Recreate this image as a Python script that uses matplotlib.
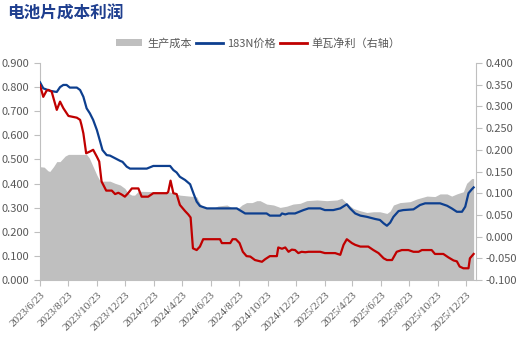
import matplotlib
matplotlib.use("Agg")
import matplotlib.pyplot as plt
import matplotlib.dates as mdates
import pandas as pd
from matplotlib.lines import Line2D
from matplotlib.patches import Patch
from matplotlib.ticker import MultipleLocator, FormatStrFormatter

plt.rcParams['font.family'] = ['Noto Sans CJK SC', 'DejaVu Sans']
plt.rcParams['axes.unicode_minus'] = False

# 生产成本 (left axis)
cost_dates = ["2023-06-23", "2023-07-02", "2023-07-10", "2023-07-14", "2023-07-22", "2023-07-29",
              "2023-08-05", "2023-08-16", "2023-08-23", "2023-10-01", "2023-10-07", "2023-10-15",
              "2023-10-23", "2023-10-30", "2023-11-20", "2023-12-01", "2023-12-12", "2023-12-22",
              "2023-12-29", "2024-01-06", "2024-01-12", "2024-01-20", "2024-03-28", "2024-04-18",
              "2024-05-24", "2024-05-31", "2024-06-07", "2024-06-28", "2024-07-09", "2024-07-28",
              "2024-08-10", "2024-08-21", "2024-08-29", "2024-09-08", "2024-09-20", "2024-09-30",
              "2024-10-07", "2024-10-21", "2024-11-05", "2024-11-19", "2024-12-03", "2024-12-17",
              "2025-01-01", "2025-01-15", "2025-02-06", "2025-02-27", "2025-03-21", "2025-03-31",
              "2025-04-11", "2025-04-25", "2025-05-10", "2025-05-24", "2025-06-07", "2025-06-21",
              "2025-07-06", "2025-07-13", "2025-07-20", "2025-08-03", "2025-08-25", "2025-09-08",
              "2025-09-30", "2025-10-17", "2025-10-28", "2025-11-12", "2025-11-22", "2025-12-03",
              "2025-12-17", "2025-12-24", "2026-01-04", "2026-01-08"]
cost_vals = [0.470, 0.468, 0.453, 0.450, 0.470, 0.491,
             0.491, 0.514, 0.521, 0.521, 0.505, 0.470,
             0.435, 0.410, 0.410, 0.401, 0.394, 0.380,
             0.360, 0.352, 0.352, 0.368, 0.365, 0.352,
             0.345, 0.318, 0.301, 0.297, 0.307, 0.311,
             0.297, 0.297, 0.311, 0.321, 0.321, 0.329,
             0.329, 0.315, 0.311, 0.301, 0.306, 0.315,
             0.318, 0.329, 0.332, 0.329, 0.332, 0.339,
             0.318, 0.297, 0.287, 0.280, 0.283, 0.283,
             0.276, 0.286, 0.311, 0.321, 0.325, 0.336,
             0.348, 0.346, 0.357, 0.357, 0.348, 0.357,
             0.366, 0.401, 0.421, 0.421]

# 183N价格 (left axis)
price_dates = ["2023-06-23", "2023-06-30", "2023-07-14", "2023-07-25", "2023-07-29", "2023-08-05",
               "2023-08-12", "2023-08-19", "2023-08-26", "2023-09-10", "2023-09-17", "2023-09-24",
               "2023-10-01", "2023-10-08", "2023-10-15", "2023-10-23", "2023-10-30", "2023-11-04",
               "2023-11-13", "2023-11-20", "2023-12-01", "2023-12-12", "2023-12-17", "2023-12-26",
               "2024-01-02", "2024-02-07", "2024-02-21", "2024-03-28", "2024-04-04", "2024-04-11",
               "2024-04-18", "2024-04-29", "2024-05-10", "2024-05-17", "2024-05-24", "2024-05-31",
               "2024-06-15", "2024-08-18", "2024-09-05", "2024-10-21", "2024-10-28", "2024-11-19",
               "2024-11-23", "2024-11-30", "2024-12-07", "2024-12-21", "2025-01-08", "2025-01-19",
               "2025-02-13", "2025-02-23", "2025-03-13", "2025-03-28", "2025-04-11", "2025-04-18",
               "2025-04-29", "2025-05-10", "2025-05-24", "2025-06-11", "2025-06-21", "2025-06-29",
               "2025-07-06", "2025-07-13", "2025-07-20", "2025-07-31", "2025-08-10", "2025-09-01",
               "2025-09-15", "2025-09-26", "2025-10-28", "2025-11-12", "2025-11-22", "2025-12-03",
               "2025-12-14", "2025-12-21", "2025-12-28", "2026-01-04", "2026-01-08"]
price_vals = [0.820, 0.795, 0.785, 0.781, 0.780, 0.800,
              0.809, 0.809, 0.798, 0.798, 0.788, 0.760,
              0.712, 0.691, 0.664, 0.622, 0.574, 0.539,
              0.518, 0.516, 0.505, 0.494, 0.490, 0.470,
              0.462, 0.462, 0.473, 0.473, 0.456, 0.446,
              0.428, 0.415, 0.397, 0.360, 0.325, 0.307,
              0.297, 0.297, 0.276, 0.276, 0.267, 0.267,
              0.276, 0.272, 0.276, 0.276, 0.290, 0.297,
              0.297, 0.290, 0.290, 0.297, 0.314, 0.297,
              0.276, 0.267, 0.262, 0.253, 0.249, 0.235,
              0.225, 0.238, 0.262, 0.286, 0.290, 0.293,
              0.311, 0.318, 0.318, 0.308, 0.297, 0.283,
              0.283, 0.304, 0.360, 0.376, 0.384]

# 单瓦净利 (right axis)
profit_dates = ["2023-06-23", "2023-06-30", "2023-07-07", "2023-07-11", "2023-07-18", "2023-07-29",
                "2023-08-05", "2023-08-12", "2023-08-23", "2023-09-10", "2023-09-17", "2023-09-20",
                "2023-09-24", "2023-09-30", "2023-10-08", "2023-10-15", "2023-10-23", "2023-10-28",
                "2023-11-02", "2023-11-12", "2023-11-24", "2023-12-01", "2023-12-08", "2023-12-15",
                "2023-12-22", "2023-12-29", "2024-01-06", "2024-01-20", "2024-01-27", "2024-02-10",
                "2024-02-21", "2024-03-21", "2024-03-24", "2024-03-29", "2024-04-04", "2024-04-11",
                "2024-04-18", "2024-04-29", "2024-05-06", "2024-05-11", "2024-05-16", "2024-05-24",
                "2024-05-31", "2024-06-07", "2024-07-13", "2024-07-17", "2024-08-04", "2024-08-09",
                "2024-08-16", "2024-08-24", "2024-08-31", "2024-09-08", "2024-09-16", "2024-09-26",
                "2024-10-11", "2024-10-18", "2024-10-28", "2024-11-12", "2024-11-15", "2024-11-23",
                "2024-11-30", "2024-12-07", "2024-12-14", "2024-12-21", "2024-12-28", "2025-01-04",
                "2025-01-12", "2025-01-19", "2025-02-13", "2025-02-23", "2025-03-17", "2025-03-28",
                "2025-04-04", "2025-04-11", "2025-04-22", "2025-04-29", "2025-05-10", "2025-05-27",
                "2025-06-07", "2025-06-18", "2025-06-29", "2025-07-06", "2025-07-17", "2025-07-27",
                "2025-08-07", "2025-08-21", "2025-09-01", "2025-09-12", "2025-09-19", "2025-10-10",
                "2025-10-17", "2025-11-04", "2025-11-15", "2025-11-26", "2025-12-03", "2025-12-09",
                "2025-12-17", "2025-12-28", "2025-12-31", "2026-01-08"]
profit_vals = [0.349, 0.322, 0.336, 0.338, 0.334, 0.292,
               0.311, 0.296, 0.278, 0.274, 0.269, 0.257,
               0.238, 0.192, 0.196, 0.200, 0.184, 0.173,
               0.127, 0.106, 0.106, 0.098, 0.101, 0.097,
               0.092, 0.100, 0.111, 0.111, 0.092, 0.092,
               0.100, 0.100, 0.103, 0.129, 0.100, 0.098,
               0.073, 0.059, 0.051, 0.044, -0.027, -0.031,
               -0.023, -0.006, -0.006, -0.015, -0.015, -0.006,
               -0.006, -0.015, -0.035, -0.045, -0.046, -0.054,
               -0.058, -0.052, -0.045, -0.045, -0.025, -0.028,
               -0.025, -0.035, -0.030, -0.031, -0.038, -0.035,
               -0.036, -0.035, -0.035, -0.038, -0.038, -0.042,
               -0.019, -0.006, -0.015, -0.019, -0.023, -0.023,
               -0.031, -0.038, -0.050, -0.054, -0.054, -0.035,
               -0.031, -0.031, -0.035, -0.035, -0.031, -0.031,
               -0.040, -0.040, -0.048, -0.055, -0.057, -0.069,
               -0.073, -0.073, -0.050, -0.040]

tick_dates = ["2023-06-23", "2023-08-23", "2023-10-23", "2023-12-23", "2024-02-23", "2024-04-23",
              "2024-06-23", "2024-08-23", "2024-10-23", "2024-12-23", "2025-02-23", "2025-04-23",
              "2025-06-23", "2025-08-23", "2025-10-23", "2025-12-23"]
tick_labels = ["2023/6/23", "2023/8/23", "2023/10/23", "2023/12/23", "2024/2/23", "2024/4/23",
               "2024/6/23", "2024/8/23", "2024/10/23", "2024/12/23", "2025/2/23", "2025/4/23",
               "2025/6/23", "2025/8/23", "2025/10/23", "2025/12/23"]

gray = "#BFBFBF"
blue = "#0D3F8F"
red = "#C00000"
txt = "#595959"
spine = "#BFBFBF"

fig = plt.figure(figsize=(5.19, 3.63), dpi=100)
ax = fig.add_axes([40 / 519, 1 - 280 / 363, 435.5 / 519, 217 / 363])
ax2 = ax.twinx()

ax.fill_between(pd.to_datetime(cost_dates), cost_vals, 0, color=gray, linewidth=0, zorder=1)
ax.plot(pd.to_datetime(price_dates), price_vals, color=blue, lw=1.6, zorder=3)
ax2.plot(pd.to_datetime(profit_dates), profit_vals, color=red, lw=1.6, zorder=3)

ax.set_xlim(pd.Timestamp("2023-06-23"), pd.Timestamp("2026-01-12"))
ax.set_ylim(0, 0.9)
ax2.set_ylim(-0.1, 0.4)
ax.yaxis.set_major_locator(MultipleLocator(0.1))
ax2.yaxis.set_major_locator(MultipleLocator(0.05))
ax.yaxis.set_major_formatter(FormatStrFormatter("%.3f"))
ax2.yaxis.set_major_formatter(FormatStrFormatter("%.3f"))

ax.set_xticks(pd.to_datetime(tick_dates))
ax.set_xticklabels(tick_labels, rotation=45, ha="right", va="top", rotation_mode="anchor",
                   family="Liberation Serif", fontsize=8, color=txt)

for a in (ax, ax2):
    a.spines["top"].set_visible(False)
    for s in ("left", "right", "bottom"):
        a.spines[s].set_color(spine)
    a.tick_params(axis="both", colors=spine, length=4, width=0.8, labelcolor=txt, labelsize=8)
ax.spines["right"].set_visible(False)
ax2.spines["left"].set_visible(False)
ax2.spines["bottom"].set_visible(False)

fig.text(7 / 519, 1 - 14 / 363, "电池片成本利润", fontsize=12, fontweight="bold",
         color="#1F3F8F", ha="left", va="center")

handles = [Patch(facecolor=gray, edgecolor="none"),
           Line2D([0], [0], color=blue, lw=2),
           Line2D([0], [0], color=red, lw=2)]
leg = fig.legend(handles, ["生产成本", "183N价格", "单瓦净利（右轴）"], ncol=3, frameon=False,
                 loc="center", bbox_to_anchor=(258 / 519, 1 - 43 / 363), fontsize=8,
                 handlelength=2.4, handletextpad=0.4, columnspacing=0.4, labelcolor=txt)

fig.savefig("out.png", dpi=100)
